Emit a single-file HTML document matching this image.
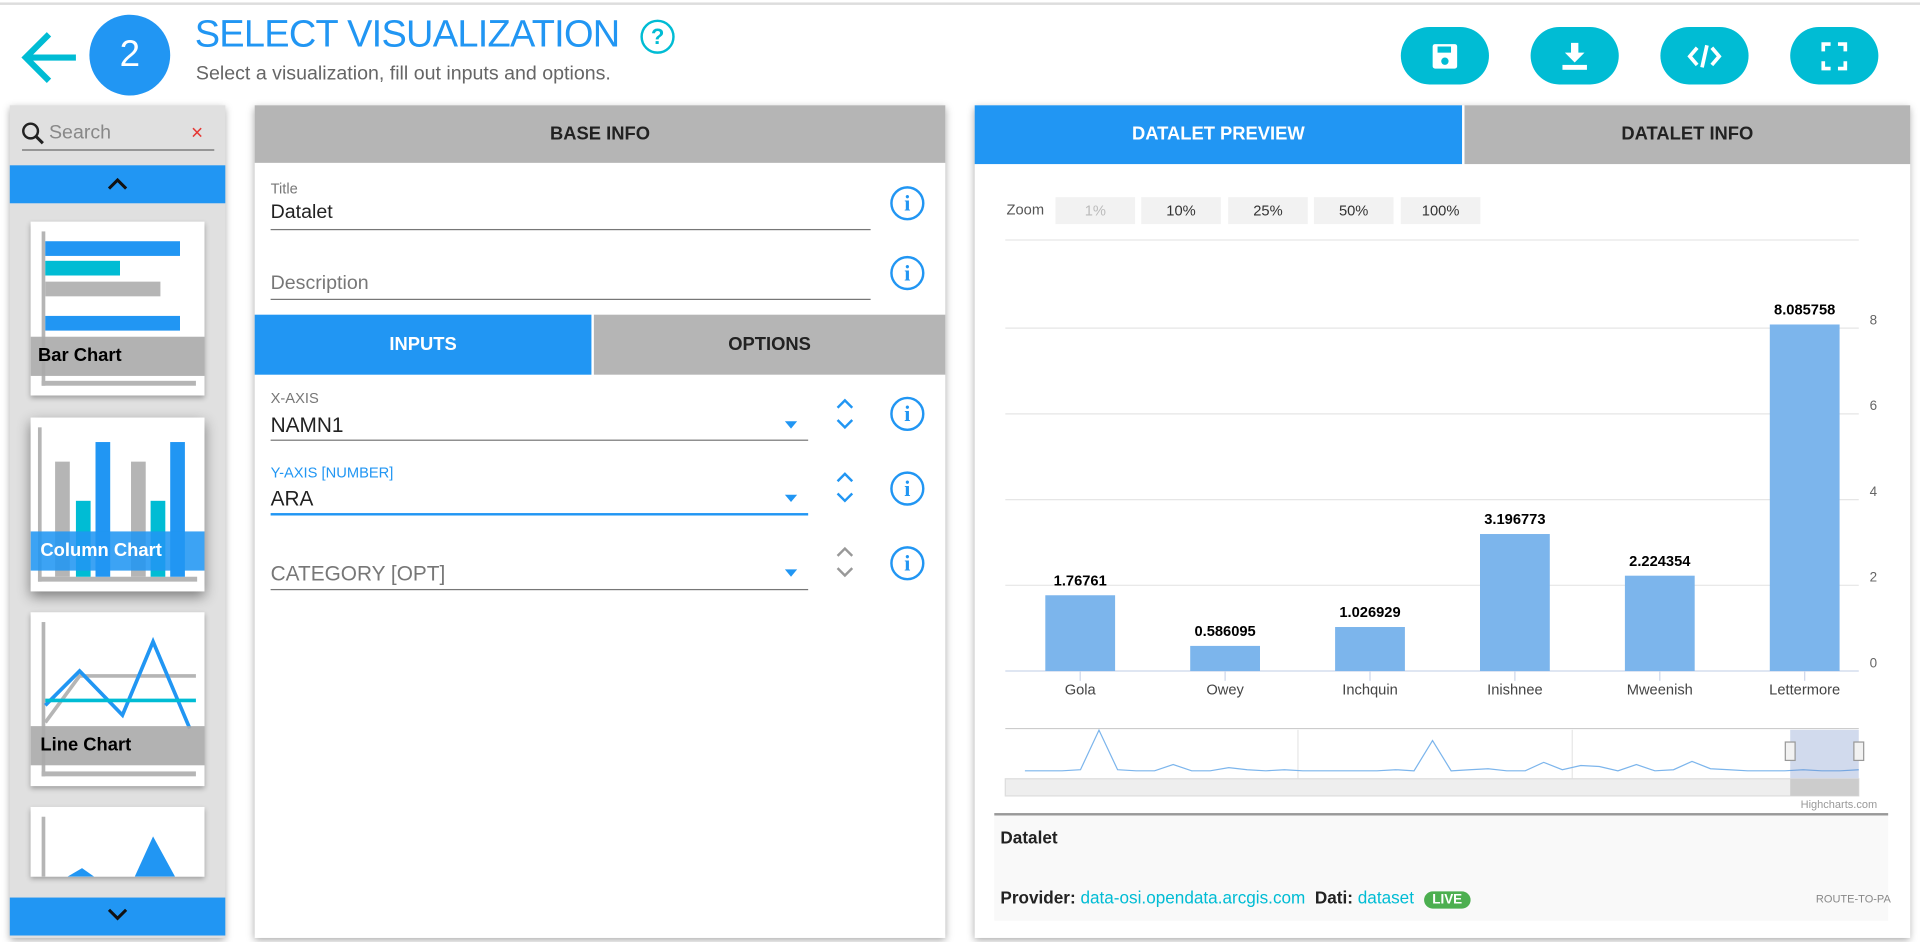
<!DOCTYPE html>
<html><head><meta charset="utf-8">
<style>
html,body{margin:0;padding:0;width:1920px;height:942px;overflow:hidden;background:#fff;font-family:"Liberation Sans",sans-serif;}
#wrap{position:absolute;left:0;top:0;width:1568px;height:769px;transform:scale(1.22449);transform-origin:0 0;}
.abs{position:absolute;}
.btn{position:absolute;top:22px;width:72px;height:47px;border-radius:24px;background:#00bcd4;}
.panel{position:absolute;background:#fff;box-shadow:0 2px 6px rgba(0,0,0,.35);}
.hdr{position:absolute;background:#b5b5b5;color:#222;font-weight:bold;font-size:15px;text-align:center;}
.info{position:absolute;width:24px;height:24px;border:2px solid #2196f3;border-radius:50%;color:#2196f3;font-weight:bold;font-size:18px;line-height:24px;text-align:center;font-family:"Liberation Serif",serif;}
.lbl{position:absolute;font-size:12px;color:#777;}
.val{position:absolute;font-size:17px;color:#222;}
.line{position:absolute;height:1px;background:#777;}
.card{position:absolute;left:25px;width:142px;height:142px;background:#fff;box-shadow:0 2px 4px rgba(0,0,0,.3);overflow:hidden;}
.zb{position:absolute;top:161px;height:22px;width:65px;background:#f2f2f2;font-size:12px;color:#333;text-align:center;line-height:22px;}
</style></head><body>
<div id="wrap">
<div class="abs" style="left:0;top:2px;width:1568px;height:2px;background:#ddd"></div>
<svg class="abs" style="left:16px;top:24px" width="50" height="46"><path d="M46 23H6M24 4L5 23L24 42" stroke="#00bcd4" stroke-width="5" fill="none"/></svg>
<div class="abs" style="left:73px;top:12px;width:66px;height:66px;border-radius:50%;background:#2196f3;color:#fff;font-size:30px;line-height:66px;text-align:center">2</div>
<div class="abs" style="left:159px;top:10px;font-size:31px;letter-spacing:-0.6px;color:#2196f3;white-space:nowrap">SELECT VISUALIZATION</div>
<div class="abs" style="left:523px;top:16px;width:24px;height:24px;border:2.5px solid #00bcd4;border-radius:50%;color:#00bcd4;font-size:18px;line-height:24px;text-align:center;font-weight:bold">?</div>
<div class="abs" style="left:160px;top:52px;font-size:16px;color:#666">Select a visualization, fill out inputs and options.</div>
<div class="btn" style="left:1144px"><svg width="72" height="47"><rect x="26" y="14" width="20" height="20" rx="2" fill="#fff"/><rect x="30" y="16" width="11" height="5" fill="#00bcd4"/><circle cx="36" cy="28" r="3" fill="#00bcd4"/></svg></div>
<div class="btn" style="left:1250px"><svg width="72" height="47"><path d="M33 13h6v8h5l-8 8l-8-8h5z" fill="#fff"/><rect x="26" y="31" width="20" height="4" fill="#fff"/></svg></div>
<div class="btn" style="left:1356px"><svg width="72" height="47"><path d="M30 17l-6 7l6 7M42 17l6 7l-6 7M38 15l-4 18" stroke="#fff" stroke-width="3" fill="none"/></svg></div>
<div class="btn" style="left:1462px"><svg width="72" height="47"><path d="M27 20v-6h6M39 14h6v6M45 28v6h-6M33 34h-6v-6" stroke="#fff" stroke-width="3" fill="none"/></svg></div>

<!-- left panel -->
<div class="panel" style="left:8px;top:86px;width:176px;height:680px;background:#e0e0e0">
  <svg class="abs" style="left:9px;top:13px" width="20" height="20"><circle cx="8" cy="8" r="6" stroke="#222" stroke-width="2" fill="none"/><path d="M12 12l6 6" stroke="#222" stroke-width="2.5"/></svg>
  <div class="abs" style="left:32px;top:14px;font-size:16px;color:#888">Search</div>
  <div class="abs" style="left:148px;top:13px;font-size:17px;color:#e53935">×</div>
  <div class="abs" style="left:10px;top:36px;width:157px;height:1px;background:#666"></div>
  <div class="abs" style="left:0;top:49px;width:176px;height:31px;background:#2196f3;color:#111;text-align:center;font-size:18px;line-height:31px"><svg width="18" height="12"><path d="M2 10l7-7l7 7" stroke="#111" stroke-width="2.5" fill="none"/></svg></div>
  <div class="abs" style="left:0;top:647px;width:176px;height:31px;background:#2196f3;text-align:center;line-height:31px"><svg width="18" height="12"><path d="M2 2l7 7l7-7" stroke="#111" stroke-width="2.5" fill="none"/></svg></div>
</div>
<div class="card" style="top:181px"><svg width="142" height="142"><rect x="9" y="8" width="3" height="126" fill="#b5b5b5"/><rect x="9" y="130" width="126" height="4" fill="#b5b5b5"/><rect x="12" y="16" width="110" height="12" fill="#2196f3"/><rect x="12" y="32" width="61" height="12" fill="#00bcd4"/><rect x="12" y="49" width="94" height="12" fill="#b5b5b5"/><rect x="12" y="77" width="110" height="12" fill="#2196f3"/></svg><div class="abs" style="left:0;top:94px;width:142px;height:32px;background:rgba(170,170,170,.9);font-weight:bold;font-size:15px;line-height:32px;padding-left:6px">Bar Chart</div></div>
<div class="card" style="top:341px;box-shadow:0 4px 10px rgba(0,0,0,.45)"><svg width="142" height="142"><rect x="6" y="8" width="3" height="126" fill="#b5b5b5"/><rect x="6" y="130" width="130" height="4" fill="#b5b5b5"/><rect x="20" y="36" width="12" height="94" fill="#b5b5b5"/><rect x="37" y="68" width="12" height="62" fill="#00bcd4"/><rect x="53" y="20" width="12" height="110" fill="#2196f3"/><rect x="82" y="36" width="12" height="94" fill="#b5b5b5"/><rect x="98" y="68" width="12" height="62" fill="#00bcd4"/><rect x="114" y="20" width="12" height="110" fill="#2196f3"/></svg><div class="abs" style="left:0;top:93px;width:142px;height:32px;background:rgba(33,150,243,.88);color:#fff;font-weight:bold;font-size:15px;line-height:32px;padding-left:8px">Column Chart</div></div>
<div class="card" style="top:500px"><svg width="142" height="142"><rect x="9" y="8" width="3" height="126" fill="#b5b5b5"/><rect x="9" y="130" width="126" height="4" fill="#b5b5b5"/><path d="M12 90L40 52H135" stroke="#b5b5b5" stroke-width="3" fill="none"/><path d="M12 76L40 48L75 84L100 24L130 95" stroke="#2196f3" stroke-width="3" fill="none"/><path d="M12 72H135" stroke="#00bcd4" stroke-width="3"/></svg><div class="abs" style="left:0;top:93px;width:142px;height:32px;background:rgba(170,170,170,.9);font-weight:bold;font-size:15px;line-height:32px;padding-left:8px">Line Chart</div></div>
<div class="card" style="top:659px;height:57px"><svg width="142" height="57"><rect x="9" y="8" width="3" height="50" fill="#b5b5b5"/><path d="M30 57L42 50L52 57z" fill="#2196f3"/><path d="M85 57L100 24L118 57z" fill="#2196f3"/></svg></div>

<!-- middle panel -->
<div class="panel" style="left:208px;top:86px;width:564px;height:680px">
  <div class="hdr" style="left:0;top:0;width:564px;height:47px;line-height:47px">BASE INFO</div>
  <div class="lbl" style="left:13px;top:61px">Title</div>
  <div class="val" style="left:13px;top:79px;font-size:16px">Datalet</div>
  <div class="line" style="left:13px;top:101px;width:490px"></div>
  <div class="info" style="left:519px;top:66px">i</div>
  <div class="val" style="left:13px;top:137px;font-size:16px;color:#777">Description</div>
  <div class="line" style="left:13px;top:158px;width:490px"></div>
  <div class="info" style="left:519px;top:123px">i</div>
  <div class="hdr" style="left:0;top:171px;width:275px;height:49px;line-height:49px;background:#2196f3;color:#fff">INPUTS</div>
  <div class="hdr" style="left:277px;top:171px;width:287px;height:49px;line-height:49px">OPTIONS</div>

  <div class="lbl" style="left:13px;top:232px">X-AXIS</div>
  <div class="val" style="left:13px;top:252px">NAMN1</div>
  <div class="abs" style="left:433px;top:258px;border:5px solid transparent;border-top:6px solid #2196f3"></div>
  <div class="line" style="left:13px;top:273px;width:439px"></div>
  <svg class="abs" style="left:474px;top:238px" width="16" height="28"><path d="M2 9l6-6l6 6M2 19l6 6l6-6" stroke="#2196f3" stroke-width="2" fill="none"/></svg>
  <div class="info" style="left:519px;top:238px">i</div>

  <div class="lbl" style="left:13px;top:293px;color:#2196f3">Y-AXIS [NUMBER]</div>
  <div class="val" style="left:13px;top:312px">ARA</div>
  <div class="abs" style="left:433px;top:318px;border:5px solid transparent;border-top:6px solid #2196f3"></div>
  <div class="abs" style="left:13px;top:333px;width:439px;height:2px;background:#2196f3"></div>
  <svg class="abs" style="left:474px;top:298px" width="16" height="28"><path d="M2 9l6-6l6 6M2 19l6 6l6-6" stroke="#2196f3" stroke-width="2" fill="none"/></svg>
  <div class="info" style="left:519px;top:299px">i</div>

  <div class="val" style="left:13px;top:373px;color:#777">CATEGORY [OPT]</div>
  <div class="abs" style="left:433px;top:379px;border:5px solid transparent;border-top:6px solid #2196f3"></div>
  <div class="line" style="left:13px;top:395px;width:439px"></div>
  <svg class="abs" style="left:474px;top:359px" width="16" height="28"><path d="M2 9l6-6l6 6M2 19l6 6l6-6" stroke="#999" stroke-width="2" fill="none"/></svg>
  <div class="info" style="left:519px;top:360px">i</div>
</div>

<!-- right panel -->
<div class="panel" style="left:796px;top:86px;width:764px;height:680px">
  <div class="hdr" style="left:0;top:0;width:398px;height:48px;line-height:48px;background:#2196f3;color:#fff">DATALET PREVIEW</div>
  <div class="hdr" style="left:400px;top:0;width:364px;height:48px;line-height:48px">DATALET INFO</div>
  <div class="abs" style="left:16px;top:578px;width:730px;height:2px;background:#999"></div>
  <div class="abs" style="left:16px;top:580px;width:730px;height:86px;background:#f9f9f9">
    <div class="abs" style="left:5px;top:10px;font-weight:bold;font-size:14px;color:#222">Datalet</div>
    <div class="abs" style="left:5px;top:59px;font-size:14px;color:#222;white-space:nowrap"><b>Provider:</b> <span style="color:#00bcd4">data-osi.opendata.arcgis.com</span>&nbsp; <b>Dati:</b> <span style="color:#00bcd4">dataset</span> <span style="display:inline-block;background:#4caf50;color:#fff;font-weight:bold;font-size:11px;border-radius:9px;padding:1px 7px;margin-left:4px">LIVE</span></div>
    <div class="abs" style="left:671px;top:63px;font-size:9px;color:#888;white-space:nowrap">ROUTE-TO-PA</div>
  </div>
</div>

<div class="abs" style="left:822px;top:164px;font-size:12px;color:#555">Zoom</div>
<div class="zb" style="left:862px;color:#bbb">1%</div>
<div class="zb" style="left:932px">10%</div>
<div class="zb" style="left:1003px">25%</div>
<div class="zb" style="left:1073px">50%</div>
<div class="zb" style="left:1144px">100%</div>

<svg id="chart" class="abs" style="left:0;top:0" width="1568" height="769"></svg>
</div>
<script>
const categories=["Gola","Owey","Inchquin","Inishnee","Mweenish","Lettermore"];
const values=[1.76761,0.586095,1.026929,3.196773,2.224354,8.085758];
const valueLabels=["1.76761","0.586095","1.026929","3.196773","2.224354","8.085758"];
const yTicks=[0,2,4,6,8];
const navValues=[0.3,0.3,0.3,0.4,4.2,0.4,0.3,0.3,0.9,0.3,0.3,0.6,0.4,0.3,0.4,0.3,0.3,0.3,0.3,0.3,0.4,0.3,3.2,0.3,0.4,0.5,0.3,0.3,1.1,0.4,0.8,0.7,0.3,0.9,0.3,0.4,1.2,0.5,0.4,0.3,0.3,0.3,0.4,0.3,0.3,0.4];
const NS="http://www.w3.org/2000/svg";
const svg=document.getElementById('chart');
const X0=823,X1=1533,Y0=548,PPU=35;
const band=(X1-X0)/categories.length;
const xC=i=>X0+band*(i+0.5);
const yS=v=>Y0-v*PPU;
function mk(t,a,txt){const e=document.createElementNS(NS,t);for(const k in a)e.setAttribute(k,a[k]);if(txt!==undefined)e.textContent=txt;svg.appendChild(e);return e;}
let e=mk('line',{x1:821,x2:1518,y1:196,y2:196,stroke:'#e6e6e6'});


yTicks.forEach(t=>{
  const g=mk('line',{x1:821,x2:1518,y1:yS(t),y2:yS(t),stroke:t===0?'#ccd6eb':'#e6e6e6'});
  
  
  const l=mk('text',{x:1533,y:yS(t)-3,'text-anchor':'end','font-size':11,fill:'#666','font-family':'Liberation Sans'},String(t));
  
  
});
categories.forEach((c,i)=>{
  const h=values[i]*PPU;
  const b=mk('rect',{x:xC(i)-28.5,y:Y0-h,width:57,height:h,fill:'#7cb5ec'});
  
  
  const v=mk('text',{x:xC(i),y:Y0-h-8,'text-anchor':'middle','font-size':12,'font-weight':'bold',fill:'#000','font-family':'Liberation Sans'},valueLabels[i]);
  
  
  const tk=mk('line',{x1:xC(i),x2:xC(i),y1:Y0,y2:Y0+8,stroke:'#ccd6eb'});
  
  
  const xl=mk('text',{x:xC(i),y:Y0+19,'text-anchor':'middle','font-size':12,fill:'#444','font-family':'Liberation Sans'},c);
  
  
});
// navigator
const NX0=837,NX1=1518,NY0=632,NPU=8.5;
let nb=mk('line',{x1:821,x2:1518,y1:595,y2:595,stroke:'#ccc'});


[1060,1284].forEach(x=>{const g=mk('line',{x1:x,x2:x,y1:596,y2:636,stroke:'#e6e6e6'});});
const nstep=(NX1-NX0)/(navValues.length-1);
let d='';
navValues.forEach((v,i)=>{d+=(i?'L':'M')+(NX0+i*nstep).toFixed(1)+' '+(NY0-v*NPU).toFixed(1);});
const np=mk('path',{d:d,stroke:'#7cb5ec','stroke-width':1,fill:'none'});


const mask=mk('rect',{x:1462,y:596,width:56,height:40,fill:'rgba(102,133,194,0.3)'});


[1462,1518].forEach(x=>{const h=mk('rect',{x:x-4,y:606,width:8,height:15,fill:'#f2f2f2',stroke:'#999'});});
const sb=mk('rect',{x:821,y:636,width:697,height:14,fill:'#eee',stroke:'#ddd'});


const th=mk('rect',{x:1462,y:636,width:56,height:14,fill:'#ccc'});


const hc=mk('text',{x:1533,y:660,'text-anchor':'end','font-size':9,fill:'#999','font-family':'Liberation Sans'},'Highcharts.com');


</script>
</body></html>
